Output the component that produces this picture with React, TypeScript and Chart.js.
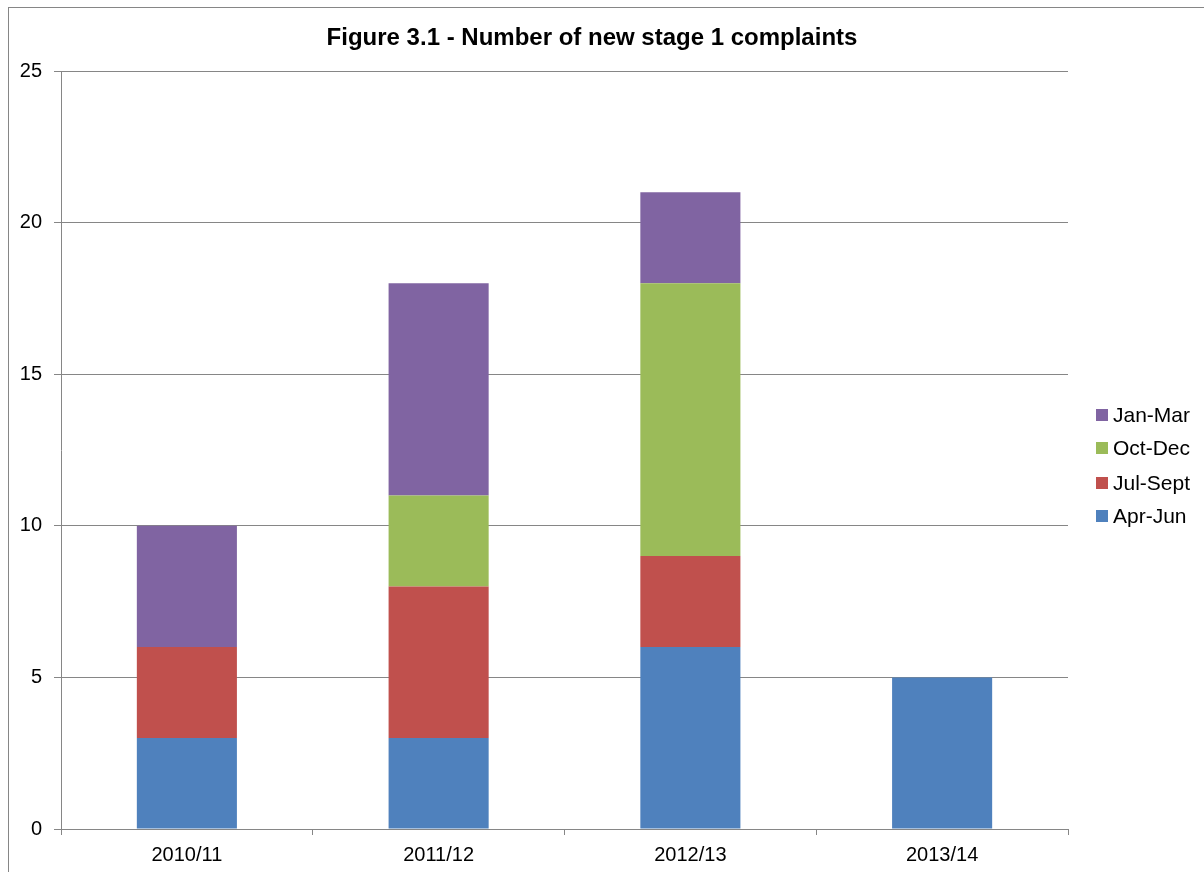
import React, { useEffect, useRef } from "react";
import { Chart, registerables } from "chart.js";

Chart.register(...registerables);

const categories = ["2010/11", "2011/12", "2012/13", "2013/14"];
const aprJun = [3, 3, 6, 5];
const julSept = [3, 5, 3, 0];
const octDec = [0, 3, 9, 0];
const janMar = [4, 7, 3, 0];
const seriesNames = ["Apr-Jun", "Jul-Sept", "Oct-Dec", "Jan-Mar"];
const seriesColors = ["#4F81BD", "#C0504D", "#9BBB59", "#8064A2"];
const yTicks = [0, 5, 10, 15, 20, 25];
const titleText = "Figure 3.1 - Number of new stage 1 complaints";

const FONT = "'Liberation Sans', Arial, sans-serif";
const GRID = "#868686";

const overlayPlugin = {
  id: "overlay",
  afterDraw(chart: any) {
    const ctx = chart.ctx;
    ctx.save();
    // title
    ctx.fillStyle = "#000";
    ctx.font = `bold 24px ${FONT}`;
    ctx.textAlign = "center";
    ctx.textBaseline = "alphabetic";
    ctx.fillText(titleText, 583, 37);
    // legend (reversed order)
    const ds = chart.data.datasets;
    const rowCenters = [407, 440, 475, 508];
    ctx.font = `21px ${FONT}`;
    ctx.textAlign = "left";
    ctx.textBaseline = "middle";
    for (let i = 0; i < ds.length; i++) {
      const d = ds[ds.length - 1 - i];
      const cy = rowCenters[i];
      ctx.fillStyle = d.backgroundColor;
      ctx.fillRect(1087, cy - 6, 12, 12);
      ctx.fillStyle = "#000";
      ctx.fillText(d.label, 1104, cy + 1);
    }
    ctx.restore();
  },
};

export default function App() {
  const ref = useRef<HTMLCanvasElement | null>(null);

  useEffect(() => {
    if (!ref.current) return;
    const data = [aprJun, julSept, octDec, janMar];
    const chart = new Chart(ref.current, {
      type: "bar",
      data: {
        labels: categories,
        datasets: seriesNames.map((name, i) => ({
          label: name,
          data: data[i],
          backgroundColor: seriesColors[i],
          borderWidth: 0,
          barPercentage: 0.795,
          categoryPercentage: 0.5,
        })),
      },
      options: {
        animation: false,
        responsive: false,
        devicePixelRatio: 1,
        layout: { padding: { top: 63, right: 136, bottom: 0, left: 0 } },
        plugins: {
          legend: { display: false },
          title: { display: false },
          tooltip: { enabled: false },
        },
        scales: {
          x: {
            stacked: true,
            afterFit: (scale: any) => {
              scale.height = 43;
            },
            grid: {
              drawOnChartArea: false,
              drawTicks: true,
              tickLength: 6,
              color: GRID,
              offset: true,
            },
            border: { display: true, color: GRID, width: 1 },
            ticks: {
              color: "#000",
              font: { family: FONT, size: 20 },
              padding: 8,
              maxRotation: 0,
            },
          },
          y: {
            stacked: true,
            min: yTicks[0],
            max: yTicks[yTicks.length - 1],
            afterFit: (scale: any) => {
              scale.width = 52;
            },
            afterBuildTicks: (scale: any) => {
              scale.ticks = yTicks.map((v) => ({ value: v }));
            },
            grid: {
              color: GRID,
              tickLength: 7,
              drawTicks: true,
            },
            border: { display: true, color: GRID, width: 1 },
            ticks: {
              color: "#000",
              font: { family: FONT, size: 20 },
              padding: 12,
            },
          },
        },
      },
      plugins: [overlayPlugin],
    });
    return () => chart.destroy();
  }, []);

  return (
    <div
      style={{
        position: "absolute",
        left: 8,
        top: 7,
        width: 1196,
        height: 865,
        borderLeft: `1px solid ${GRID}`,
        borderTop: `1px solid ${GRID}`,
        boxSizing: "border-box",
        overflow: "hidden",
        background: "#fff",
      }}
    >
      <canvas ref={ref} width={1195} height={864} style={{ display: "block" }} />
    </div>
  );
}
